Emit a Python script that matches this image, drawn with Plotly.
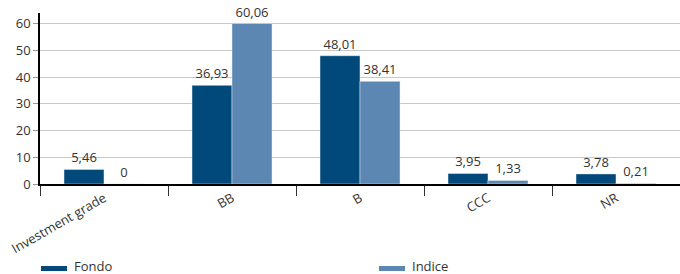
import plotly.graph_objects as go

categories = ["Investment grade", "BB", "B", "CCC", "NR"]
fondo = [5.46, 36.93, 48.01, 3.95, 3.78]
indice = [0, 60.06, 38.41, 1.33, 0.21]
y_ticks = [0, 10, 20, 30, 40, 50, 60]
series_names = ["Fondo", "Indice"]

c_fondo = "#00497a"
c_indice = "#5b87b2"


def fmt(v):
    return "0" if v == 0 else f"{v:.2f}".replace(".", ",")


font = dict(family="Open Sans", size=13, color="#333333")

fig = go.Figure()
fig.add_trace(go.Bar(x=categories, y=fondo, name=series_names[0], marker_color=c_fondo,
                     text=[fmt(v) for v in fondo], textposition="outside",
                     textfont=font, cliponaxis=False))
fig.add_trace(go.Bar(x=categories, y=indice, name=series_names[1], marker_color=c_indice,
                     text=[fmt(v) for v in indice], textposition="outside",
                     textfont=font, cliponaxis=False))

W, H = 680, 274
L, R, T, B = 40, 0, 13, 90
pw, ph = W - L - R, H - T - B


def px_x(x):
    return (x - L) / pw


def px_y(y):
    return (H - B - y) / ph


shapes, annotations = [], []
for name, col, sx in [(series_names[0], c_fondo, 41), (series_names[1], c_indice, 379)]:
    shapes.append(dict(type="rect", xref="paper", yref="paper",
                       x0=px_x(sx), x1=px_x(sx + 26), y0=px_y(271), y1=px_y(266),
                       fillcolor=col, line=dict(width=0)))
    annotations.append(dict(xref="paper", yref="paper", x=px_x(sx + 32), y=px_y(265.5),
                            text=name, showarrow=False, xanchor="left",
                            yanchor="middle", font=font, borderpad=0))

fig.update_layout(
    width=W, height=H,
    margin=dict(l=L, r=R, t=T, b=B),
    plot_bgcolor="white", paper_bgcolor="white",
    font=font, showlegend=False,
    barmode="group", bargap=0.375, bargroupgap=0,
    shapes=shapes, annotations=annotations,
    xaxis=dict(showline=True, linecolor="#000000", linewidth=1.5,
               ticks="outside", tickson="boundaries", ticklen=10,
               tickcolor="#333333", tickangle=-30, showgrid=False,
               tickfont=font, automargin=False),
    yaxis=dict(range=[0, 64], tickvals=y_ticks, showline=True,
               linecolor="#000000", linewidth=1.5, ticks="outside",
               ticklen=5, tickcolor="#999999", showgrid=True,
               gridcolor="#c8c8c8", gridwidth=1, zeroline=False,
               tickfont=font, automargin=False),
)

fig.write_html("out.html", config={"displayModeBar": False},
               post_script="document.body.style.margin='0';document.body.style.padding='0';")
